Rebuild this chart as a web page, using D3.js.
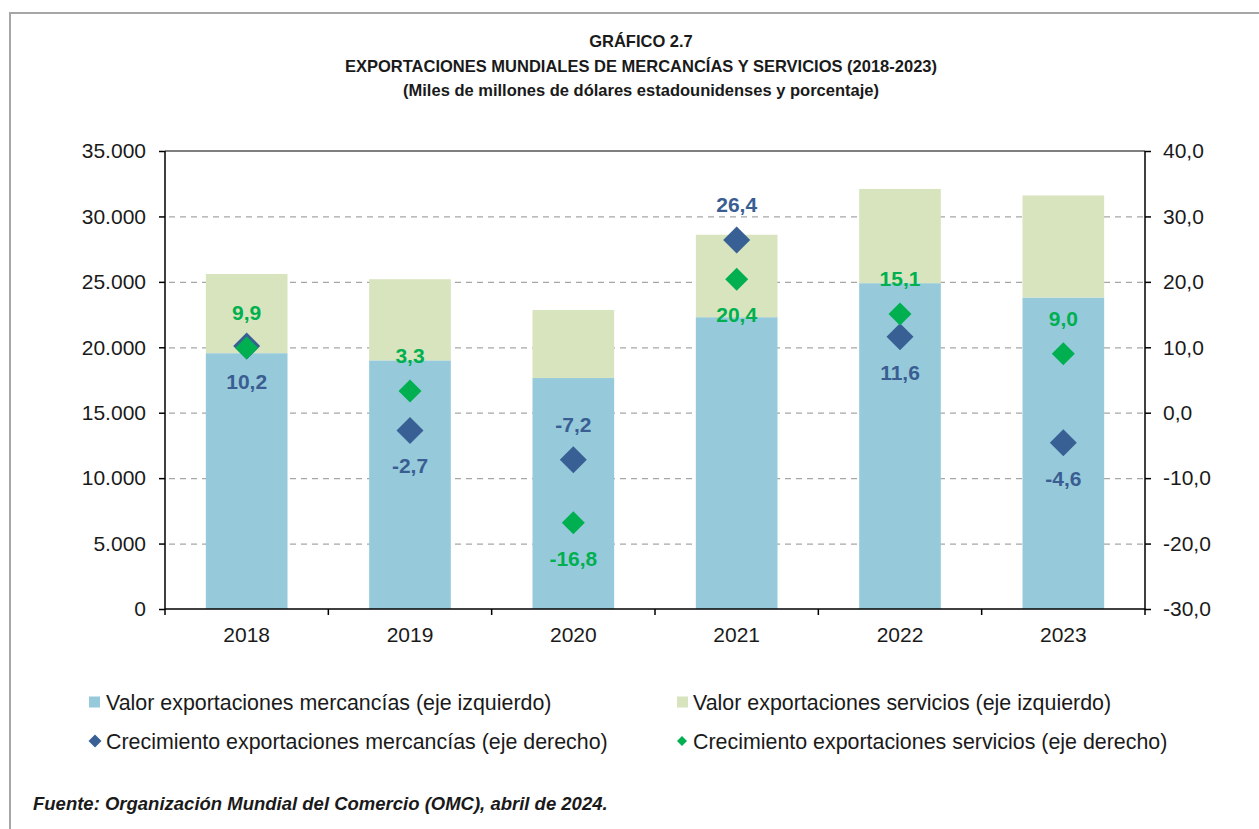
<!DOCTYPE html>
<html>
<head>
<meta charset="utf-8">
<script src="https://cdn.jsdelivr.net/npm/d3@7"></script>
<style>
  body { margin: 0; background: #fff; }
  text { font-family: Arial, "Liberation Sans", Helvetica, sans-serif; }
</style>
</head>
<body>
<div id="chart"></div>
<script>
// data
var years = ["2018", "2019", "2020", "2021", "2022", "2023"];
var valorMercancias = [19550, 19000, 17650, 22300, 24900, 23800];
var valorServicios = [6050, 6200, 5200, 6300, 7200, 7800];
var crecMercancias = [10.2, -2.7, -7.2, 26.4, 11.6, -4.6];
var crecServicios = [9.9, 3.3, -16.8, 20.4, 15.1, 9.0];
var leftTicks = [0, 5000, 10000, 15000, 20000, 25000, 30000, 35000];
var rightTicks = [-30, -20, -10, 0, 10, 20, 30, 40];

var titleLines = [
  "GRÁFICO 2.7",
  "EXPORTACIONES MUNDIALES DE MERCANCÍAS Y SERVICIOS (2018-2023)",
  "(Miles de millones de dólares estadounidenses y porcentaje)"
];
var legendItems = [
  "Valor exportaciones mercancías (eje izquierdo)",
  "Valor exportaciones servicios (eje izquierdo)",
  "Crecimiento exportaciones mercancías (eje derecho)",
  "Crecimiento exportaciones servicios (eje derecho)"
];
var fuente = "Fuente: Organización Mundial del Comercio (OMC), abril de 2024.";

var width = 1259;
var height = 829;
var plot = { left: 165, right: 1145, top: 151, bottom: 609 };

var colMerc = "#96cadb";
var colServ = "#d8e4bd";
var colBlue = "#386094";
var colGreen = "#00b050";

var locale = d3.formatLocale({ decimal: ",", thousands: ".", grouping: [3], currency: ["", ""], minus: "-" });
var fmtLeft = locale.format(",.0f");
var fmtPct = locale.format(".1f");

var svg = d3.select("#chart")
  .append("svg")
  .attr("width", width)
  .attr("height", height);

// outer frame
svg.append("path")
  .attr("d", "M10," + height + " V13 H" + width)
  .attr("fill", "none")
  .attr("stroke", "#a6a6a6")
  .attr("stroke-width", 2);

// titles
svg.selectAll(".title")
  .data(titleLines)
  .enter()
  .append("text")
  .attr("x", 641)
  .attr("y", (d, i) => 47 + i * 24.5)
  .attr("text-anchor", "middle")
  .attr("font-weight", "bold")
  .attr("font-size", 16.5)
  .attr("fill", "#1a1a1a")
  .text(d => d);

var xScale = d3.scaleBand()
  .domain(years)
  .range([plot.left, plot.right])
  .paddingInner(0.5)
  .paddingOuter(0.25);

var yLeft = d3.scaleLinear()
  .domain([0, 35000])
  .range([plot.bottom, plot.top]);

var yRight = d3.scaleLinear()
  .domain([-30, 40])
  .range([plot.bottom, plot.top]);

// gridlines
svg.append("g")
  .selectAll("line")
  .data(leftTicks.slice(1, -1))
  .enter()
  .append("line")
  .attr("x1", plot.left + 4)
  .attr("x2", plot.right - 2)
  .attr("y1", d => yLeft(d) + 0.5)
  .attr("y2", d => yLeft(d) + 0.5)
  .attr("stroke", "#a6a6a6")
  .attr("stroke-width", 1.2)
  .attr("stroke-dasharray", "6,5");

// stacked bars
var bars = svg.append("g");
bars.selectAll(".merc")
  .data(years)
  .enter()
  .append("rect")
  .attr("x", d => xScale(d))
  .attr("width", xScale.bandwidth())
  .attr("y", (d, i) => yLeft(valorMercancias[i]))
  .attr("height", (d, i) => yLeft(0) - yLeft(valorMercancias[i]))
  .attr("fill", colMerc);

bars.selectAll(".serv")
  .data(years)
  .enter()
  .append("rect")
  .attr("x", d => xScale(d))
  .attr("width", xScale.bandwidth())
  .attr("y", (d, i) => yLeft(valorMercancias[i] + valorServicios[i]))
  .attr("height", (d, i) => yLeft(valorMercancias[i]) - yLeft(valorMercancias[i] + valorServicios[i]))
  .attr("fill", colServ);

// axes
var leftAxis = d3.axisLeft(yLeft)
  .tickValues(leftTicks)
  .tickFormat(fmtLeft)
  .tickSize(6)
  .tickPadding(13);

var rightAxis = d3.axisRight(yRight)
  .tickValues(rightTicks)
  .tickFormat(d => fmtPct(d))
  .tickSize(6)
  .tickPadding(12);

var bottomAxis = d3.axisBottom(xScale)
  .tickSize(0)
  .tickPadding(18);

var gl = svg.append("g")
  .attr("transform", "translate(" + plot.left + ",0)")
  .call(leftAxis);

var gr = svg.append("g")
  .attr("transform", "translate(" + plot.right + ",0)")
  .call(rightAxis);

var gb = svg.append("g")
  .attr("transform", "translate(0," + plot.bottom + ")")
  .call(bottomAxis);

[gl, gr, gb].forEach(function(g) {
  g.select(".domain").attr("stroke", "#000").attr("stroke-width", 1.5);
  g.selectAll(".tick line").attr("stroke", "#000").attr("stroke-width", 1.5);
  g.selectAll(".tick text")
    .attr("font-size", 21)
    .attr("fill", "#1a1a1a")
    .style("font-family", "Arial, 'Liberation Sans', sans-serif");
});
gl.select(".domain").attr("d", "M0," + plot.bottom + "V" + plot.top);
gr.select(".domain").attr("d", "M0," + plot.bottom + "V" + plot.top);
gb.select(".domain").attr("d", "M" + plot.left + ",0H" + plot.right);

// category ticks on the x axis (at band boundaries)
var step = xScale.step();
var boundaries = years.map((d, i) => xScale(d) - (step - xScale.bandwidth()) / 2).concat([plot.right]);
gb.append("g")
  .selectAll("line")
  .data(boundaries)
  .enter()
  .append("line")
  .attr("x1", d => d)
  .attr("x2", d => d)
  .attr("y1", 0)
  .attr("y2", 6)
  .attr("stroke", "#000")
  .attr("stroke-width", 1.5);

// top border of plot area
svg.append("line")
  .attr("x1", plot.left)
  .attr("x2", plot.right)
  .attr("y1", plot.top)
  .attr("y2", plot.top)
  .attr("stroke", "#000")
  .attr("stroke-width", 1.2);

function diamond(r) {
  return "M0," + (-r) + "L" + r + ",0L0," + r + "L" + (-r) + ",0Z";
}

var cx = d => xScale(d) + xScale.bandwidth() / 2;

// growth markers
var pts = svg.append("g");
pts.selectAll(".dm")
  .data(years)
  .enter()
  .append("path")
  .attr("d", diamond(13.5))
  .attr("transform", (d, i) => "translate(" + cx(d) + "," + yRight(crecMercancias[i]) + ")")
  .attr("fill", colBlue);

pts.selectAll(".ds")
  .data(years)
  .enter()
  .append("path")
  .attr("d", diamond(11.5))
  .attr("transform", (d, i) => "translate(" + cx(d) + "," + yRight(crecServicios[i]) + ")")
  .attr("fill", colGreen);

// value labels
var mercAbove = ["2020", "2021"];
var servBelow = ["2020", "2021"];

pts.selectAll(".lm")
  .data(years)
  .enter()
  .append("text")
  .attr("x", d => cx(d))
  .attr("y", (d, i) => yRight(crecMercancias[i]) + (mercAbove.indexOf(d) >= 0 ? -28 : 43))
  .attr("text-anchor", "middle")
  .attr("font-weight", "bold")
  .attr("font-size", 21)
  .attr("fill", "#3a5e92")
  .text((d, i) => fmtPct(crecMercancias[i]));

pts.selectAll(".ls")
  .data(years)
  .enter()
  .append("text")
  .attr("x", d => cx(d))
  .attr("y", (d, i) => yRight(crecServicios[i]) + (servBelow.indexOf(d) >= 0 ? 43 : -28))
  .attr("text-anchor", "middle")
  .attr("font-weight", "bold")
  .attr("font-size", 21)
  .attr("fill", colGreen)
  .text((d, i) => fmtPct(crecServicios[i]));

// legend
var legendX = [89, 677];
var legendY = [702, 741];
var legend = svg.append("g");
legendItems.forEach(function(label, i) {
  var lx = legendX[i % 2];
  var ly = legendY[Math.floor(i / 2)];
  var g = legend.append("g").attr("transform", "translate(" + lx + "," + ly + ")");
  if (i < 2) {
    g.append("rect")
      .attr("x", 0)
      .attr("y", -5.5)
      .attr("width", 11)
      .attr("height", 11)
      .attr("fill", i === 0 ? colMerc : colServ);
  } else {
    var r = i === 2 ? 6.5 : 5;
    g.append("path")
      .attr("d", diamond(r))
      .attr("transform", "translate(" + (i === 2 ? 6 : 5) + ",0)")
      .attr("fill", i === 2 ? colBlue : colGreen);
  }
  g.append("text")
    .attr("x", i % 2 === 0 ? 17 : 16)
    .attr("y", 7.5)
    .attr("font-size", 21.4)
    .attr("fill", "#1a1a1a")
    .text(label);
});

// source
svg.append("text")
  .attr("x", 33)
  .attr("y", 810)
  .attr("font-size", 18.5)
  .attr("font-weight", "bold")
  .attr("font-style", "italic")
  .attr("fill", "#1a1a1a")
  .text(fuente);
</script>
</body>
</html>
